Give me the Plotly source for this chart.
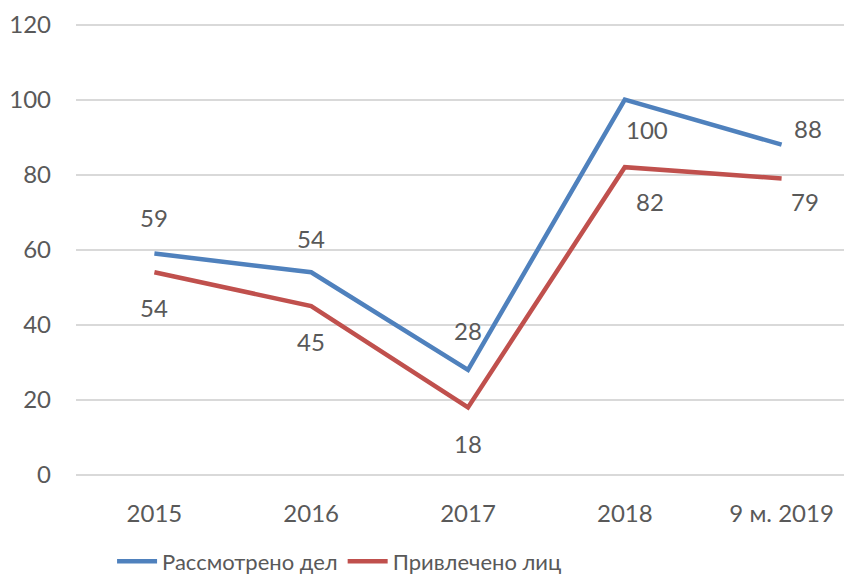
import plotly.graph_objects as go

categories = ["2015", "2016", "2017", "2018", "9 м. 2019"]
considered = [59, 54, 28, 100, 88]
involved = [54, 45, 18, 82, 79]
series_names = ["Рассмотрено дел", "Привлечено лиц"]

BLUE = "#4F81BD"
RED = "#C0504D"
TXT = "#595959"
FONT = "Lato, 'Open Sans', sans-serif"

# label offsets (px) — style only
blue_off = [(0, 36), (0, 34), (0, 39), (22, -30), (26, 16)]
red_off = [(0, -35), (0, -35), (0, -36), (25, -34), (23, -23)]

fig = go.Figure()
fig.add_trace(go.Scatter(x=categories, y=considered, mode="lines", name=series_names[0],
                         line=dict(color=BLUE, width=4.5)))
fig.add_trace(go.Scatter(x=categories, y=involved, mode="lines", name=series_names[1],
                         line=dict(color=RED, width=4.5)))

anns = []
for vals, offs in ((considered, blue_off), (involved, red_off)):
    for i, (v, (dx, dy)) in enumerate(zip(vals, offs)):
        anns.append(dict(x=i, y=v, xref="x", yref="y", text=str(v), showarrow=False,
                         xshift=dx, yshift=dy,
                         font=dict(family=FONT, size=24, color=TXT)))

fig.update_layout(
    width=852, height=580,
    margin=dict(l=68, r=0, t=15, b=113, autoexpand=False),
    plot_bgcolor="white", paper_bgcolor="white",
    font=dict(family=FONT, size=24, color=TXT),
    annotations=anns,
    showlegend=True,
    legend=dict(orientation="h", x=0.046, xanchor="left", y=-0.145, yanchor="top",
                font=dict(family=FONT, size=22, color=TXT), itemwidth=40,
                tracegroupgap=0),
    xaxis=dict(type="category", showgrid=False, showline=False, ticks="",
               tickfont=dict(size=24, color=TXT), range=[-0.5, 4.5],
               ticklabelstandoff=22, automargin=False),
    yaxis=dict(range=[0, 120.4], tickvals=[0, 20, 40, 60, 80, 100, 120],
               showgrid=True, gridcolor="#D9D9D9", gridwidth=1.5,
               zeroline=True, zerolinecolor="#D9D9D9", zerolinewidth=1.5,
               showline=False, ticks="", ticklabelstandoff=24, automargin=False,
               ticklabeloverflow="allow",
               tickfont=dict(size=24, color=TXT)),
)
fig.write_html("out.html")
